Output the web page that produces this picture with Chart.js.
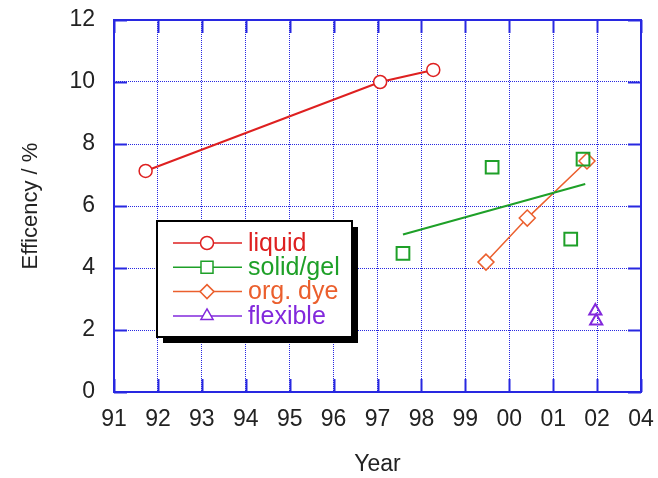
<!DOCTYPE html>
<html>
<head>
<meta charset="utf-8">
<script src="https://cdn.jsdelivr.net/npm/chart.js@4.4.1/dist/chart.umd.min.js"></script>
<style>
  html, body { margin: 0; padding: 0; background: #fff; }
  #wrap { width: 658px; height: 478px; }
</style>
</head>
<body>
<div id="wrap"><canvas id="effChart"></canvas></div>
<script>
// x axis: years 91..103, the last tick is labelled "04" in the original
const yearTicks = [91, 92, 93, 94, 95, 96, 97, 98, 99, 100, 101, 102, 103];
const yearLabels = ['91', '92', '93', '94', '95', '96', '97', '98', '99', '00', '01', '02', '04'];
const effTicks = [0, 2, 4, 6, 8, 10, 12];

const liquidYear = [91.72, 97.06, 98.27];
const liquidEff = [7.13, 10.0, 10.39];

const solidYear = [97.58, 99.61, 101.40, 101.68];
const solidEff = [4.47, 7.25, 4.93, 7.51];

// straight fit through the solid/gel points
const solidFitYear = [97.58, 101.73];
const solidFitEff = [5.08, 6.71];

const dyeYear = [99.47, 100.41, 101.77];
const dyeEff = [4.19, 5.61, 7.45];

const flexYear = [101.96, 101.98];
const flexEff = [2.61, 2.29];

const RED = 'rgb(222,32,32)';
const GREEN = 'rgb(30,160,40)';
const ORANGE = 'rgb(235,95,45)';
const PURPLE = 'rgb(130,40,220)';
const BLUE = 'rgb(40,40,225)';
const FONT = '"Liberation Sans", Arial, Helvetica, sans-serif';

function pts(xs, ys) {
    return xs.map((x, i) => ({ x: x, y: ys[i] }));
}

const framePlugin = {
    id: 'frame',
    beforeDatasetsDraw(chart) {
        const { ctx, chartArea: a, scales } = chart;
        ctx.save();
        ctx.strokeStyle = BLUE;
        ctx.lineWidth = 2;
        ctx.strokeRect(a.left, a.top, a.right - a.left, a.bottom - a.top);
        ctx.beginPath();
        const len = 13;
        yearTicks.forEach(v => {
            const px = Math.round(scales.x.getPixelForValue(v)) + 0.5;
            ctx.moveTo(px, a.bottom); ctx.lineTo(px, a.bottom - len);
            ctx.moveTo(px, a.top); ctx.lineTo(px, a.top + len);
        });
        effTicks.forEach(v => {
            const py = Math.round(scales.y.getPixelForValue(v)) + 0.5;
            ctx.moveTo(a.left, py); ctx.lineTo(a.left + len, py);
            ctx.moveTo(a.right, py); ctx.lineTo(a.right - len, py);
        });
        ctx.stroke();
        ctx.restore();
    }
};

const legendBoxPlugin = {
    id: 'legendBox',
    afterDraw(chart) {
        const ctx = chart.ctx;
        const bx = 157, by = 221, bw = 195, bh = 116;
        ctx.save();
        ctx.fillStyle = '#000';
        ctx.fillRect(bx + 6, by + 6, bw, bh);
        ctx.fillStyle = '#fff';
        ctx.fillRect(bx, by, bw, bh);
        ctx.strokeStyle = '#000';
        ctx.lineWidth = 2;
        ctx.strokeRect(bx, by, bw, bh);

        const items = chart.data.datasets.filter(d => !d.noLegend);
        items.forEach((d, i) => {
            const y = 243 + i * 24.3;
            ctx.strokeStyle = d.borderColor;
            ctx.lineWidth = 1.5;
            ctx.beginPath();
            ctx.moveTo(173, y); ctx.lineTo(242, y);
            ctx.stroke();
            ctx.fillStyle = '#fff';
            ctx.lineWidth = 1.5;
            Chart.helpers.drawPoint(ctx, {
                pointStyle: d.pointStyle, rotation: 0,
                radius: d.legendRadius, borderWidth: 1.5
            }, 207, y);
            ctx.fillStyle = d.borderColor;
            ctx.font = '25px ' + FONT;
            ctx.textAlign = 'left';
            ctx.textBaseline = 'middle';
            ctx.fillText(d.label, 248, y + 1);
        });
        ctx.restore();
    }
};

new Chart(document.getElementById('effChart'), {
    type: 'scatter',
    data: {
        datasets: [
            {
                label: 'liquid',
                data: pts(liquidYear, liquidEff),
                showLine: true,
                borderColor: RED,
                borderWidth: 2,
                pointStyle: 'circle',
                pointRadius: 6.5,
                pointBorderWidth: 1.5,
                pointBackgroundColor: '#fff',
                pointBorderColor: RED,
                legendRadius: 6.5
            },
            {
                label: 'solid/gel',
                data: pts(solidYear, solidEff),
                showLine: false,
                borderColor: GREEN,
                pointStyle: 'rect',
                pointRadius: 9,
                pointBorderWidth: 2,
                pointBackgroundColor: 'rgba(0,0,0,0)',
                pointBorderColor: GREEN,
                legendRadius: 8.5
            },
            {
                label: 'fit',
                noLegend: true,
                data: pts(solidFitYear, solidFitEff),
                showLine: true,
                borderColor: GREEN,
                borderWidth: 2,
                pointRadius: 0
            },
            {
                label: 'org. dye',
                data: pts(dyeYear, dyeEff),
                showLine: true,
                borderColor: ORANGE,
                borderWidth: 1.5,
                pointStyle: 'rectRot',
                pointRadius: 8,
                pointBorderWidth: 1.5,
                pointBackgroundColor: '#fff',
                pointBorderColor: ORANGE,
                legendRadius: 7
            },
            {
                label: 'flexible',
                data: pts(flexYear, flexEff),
                showLine: false,
                borderColor: PURPLE,
                pointStyle: 'triangle',
                pointRadius: 7,
                pointBorderWidth: 2,
                pointBackgroundColor: 'rgba(0,0,0,0)',
                pointBorderColor: PURPLE,
                legendRadius: 7
            }
        ]
    },
    options: {
        responsive: true,
        maintainAspectRatio: false,
        animation: false,
        layout: { padding: { top: 20, right: 17, left: 0, bottom: 0 } },
        plugins: {
            legend: { display: false },
            tooltip: { enabled: false }
        },
        scales: {
            x: {
                type: 'linear',
                min: 91,
                max: 103,
                afterBuildTicks: scale => { scale.ticks = yearTicks.map(v => ({ value: v })); },
                afterFit: scale => {
                    scale.height = 86;
                    scale.paddingLeft = 0;
                    scale.paddingRight = 0;
                },
                ticks: {
                    autoSkip: false,
                    maxRotation: 0,
                    padding: 14,
                    color: '#222',
                    font: { family: FONT, size: 23 },
                    callback: v => {
                        const i = yearTicks.indexOf(v);
                        return i >= 0 ? yearLabels[i] : '';
                    }
                },
                grid: { color: BLUE, lineWidth: 1, drawTicks: false },
                border: { display: false, dash: [1, 1] },
                title: {
                    display: true,
                    text: 'Year',
                    color: '#222',
                    font: { family: FONT, size: 23 },
                    padding: { top: 0, bottom: 0 }
                }
            },
            y: {
                min: 0,
                max: 12,
                afterBuildTicks: scale => { scale.ticks = effTicks.map(v => ({ value: v })); },
                afterFit: scale => {
                    scale.width = 114;
                    scale.paddingTop = 0;
                    scale.paddingBottom = 0;
                },
                ticks: {
                    padding: 19,
                    color: '#222',
                    font: { family: FONT, size: 23 }
                },
                grid: { color: BLUE, lineWidth: 1, drawTicks: false },
                border: { display: false, dash: [1, 1] },
                title: {
                    display: true,
                    text: 'Efficency / %',
                    color: '#222',
                    font: { family: FONT, size: 22 },
                    padding: { top: 18, bottom: 0 }
                }
            }
        }
    },
    plugins: [framePlugin, legendBoxPlugin]
});
</script>
</body>
</html>
